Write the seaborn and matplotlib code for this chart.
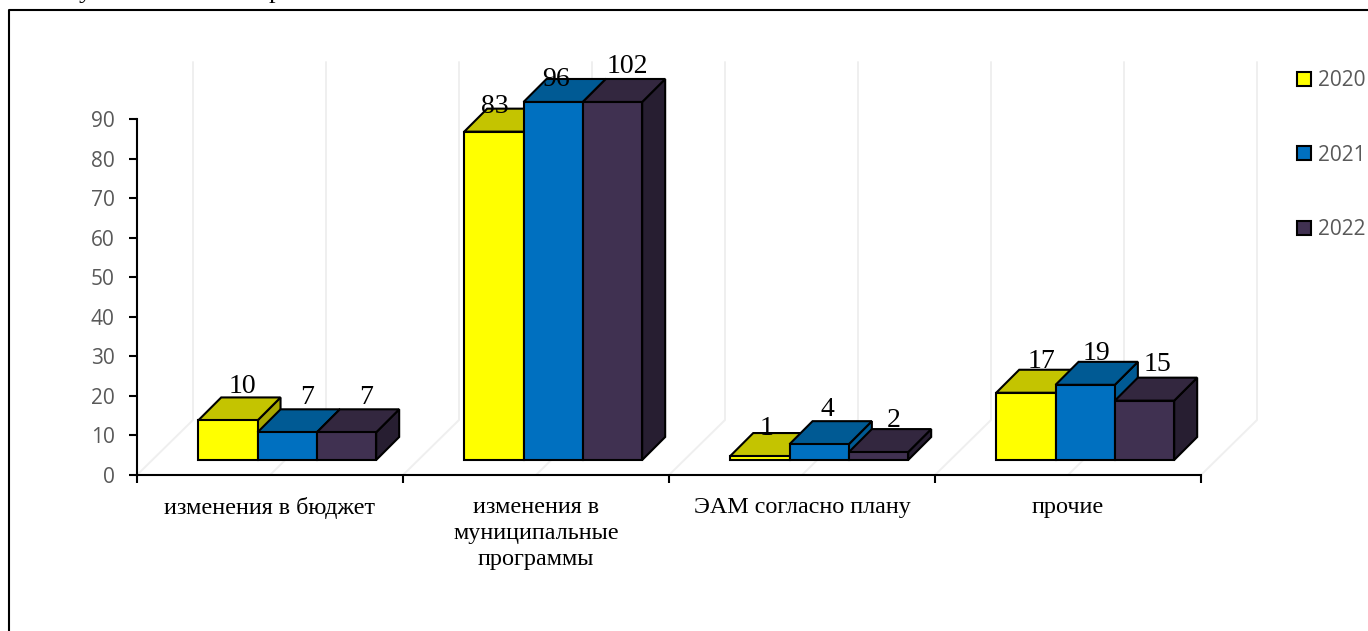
import matplotlib
matplotlib.use("Agg")
import matplotlib.pyplot as plt
import numpy as np
import pandas as pd
import seaborn as sns
from matplotlib.lines import Line2D
from matplotlib.patches import Polygon, Rectangle

categories = ["изменения в бюджет", "изменения в\nмуниципальные\nпрограммы", "ЭАМ согласно плану", "прочие"]
years = ["2020", "2021", "2022"]
values_2020 = [10, 83, 1, 17]
values_2021 = [7, 96, 4, 19]
values_2022 = [7, 102, 2, 15]
y_ticks = [0, 10, 20, 30, 40, 50, 60, 70, 80, 90]

front_colors = ["#FFFF00", "#0070C0", "#403151"]
top_colors = ["#C4C400", "#005A94", "#33273F"]
side_colors = ["#A8A800", "#005A94", "#271E31"]

# label nudges in pixels from the front top centre of each bar (year, category)
label_nudges = [
    [(15, 34), (1, 25), (7, 28), (16, 31)],
    [(20, 35), (3, 22), (8, 35), (11, 31)],
    [(20, 35), (15, 35), (15, 32), (13, 36)],
]

W, H = 1368, 631
PX_X = 266.0         # one category
PX_Y = 3.956         # one value unit
AX_LEFT, AX_RIGHT, AX_BOTTOM, AX_TOP = 137, 1201, 475, 60
BAR_SHIFT = 17.2 / PX_X
BASE = 15 / PX_Y     # bars stand on the floor, above the axis line
CLIP = 90.5          # the 3D chart cuts taller bars at the axis top
DX, DY = 23 / PX_X, 23 / PX_Y
WALL_DX, WALL_DY = 56 / PX_X, 55 / PX_Y

df = pd.DataFrame({
    "category": categories * 3,
    "year": np.repeat(years, 4),
    "value": values_2020 + values_2021 + values_2022,
})
df["drawn"] = df["value"].clip(upper=CLIP)

sns.set_theme(style="white")
plt.rcParams["font.family"] = ["Liberation Serif", "DejaVu Serif"]

fig = plt.figure(figsize=(W / 100, H / 100), dpi=100)
ax = fig.add_axes([AX_LEFT / W, 1 - AX_BOTTOM / H, (AX_RIGHT - AX_LEFT) / W, (AX_BOTTOM - AX_TOP) / H])
ax.patch.set_alpha(0)

sns.barplot(data=df, x="category", y="drawn", hue="year", palette=front_colors, saturation=1,
            order=categories, hue_order=years, width=0.669, gap=0, bottom=BASE,
            edgecolor="black", linewidth=1.5, legend=False, ax=ax)

x0 = -0.5 - BAR_SHIFT
ax.set_xlim(x0, x0 + 4)
ax.set_ylim(0, (AX_BOTTOM - AX_TOP) / PX_Y)

# wall and floor lines behind the bars
for i in range(9):
    x = x0 + i * 0.5
    ax.plot([x, x + WALL_DX, x + WALL_DX], [0, WALL_DY, 104.4], color="#EFEFEF", lw=1.4,
            zorder=1, clip_on=False, solid_joinstyle="miter")

# 3D faces for every bar, painted left to right
for h, container in enumerate(ax.containers):
    for c, bar in enumerate(container):
        order = c * 10 + h * 3 + 5
        x1, x2 = bar.get_x(), bar.get_x() + bar.get_width()
        y1, y2 = bar.get_y(), bar.get_y() + bar.get_height()
        side = [(x2, y1), (x2 + DX, y1 + DY), (x2 + DX, y2 + DY), (x2, y2)]
        top = [(x1, y2), (x1 + DX, y2 + DY), (x2 + DX, y2 + DY), (x2, y2)]
        ax.add_patch(Polygon(side, fc=side_colors[h], ec="black", lw=1.5, zorder=order, clip_on=False))
        ax.add_patch(Polygon(top, fc=top_colors[h], ec="black", lw=1.5, zorder=order + 1, clip_on=False))
        bar.set_zorder(order + 2)
        bar.set_clip_on(False)

# value labels
year_values = [values_2020, values_2021, values_2022]
for h, container in enumerate(ax.containers):
    for c, bar in enumerate(container):
        ax.annotate(str(year_values[h][c]),
                    (bar.get_x() + bar.get_width() / 2, bar.get_y() + bar.get_height()),
                    xytext=label_nudges[h][c], textcoords="offset pixels",
                    ha="center", va="center", fontsize=20, color="black", zorder=100)

for s in ["top", "right"]:
    ax.spines[s].set_visible(False)
for s in ["left", "bottom"]:
    ax.spines[s].set_linewidth(1.5)
    ax.spines[s].set_color("black")
    ax.spines[s].set_zorder(2)
ax.spines["left"].set_bounds(0, 90)

ax.set_xlabel("")
ax.set_ylabel("")
ax.set_yticks(y_ticks)
ax.tick_params(axis="y", length=6, width=1.5, color="black", left=True, pad=10,
               labelsize=15, labelcolor="#595959")
for t in ax.get_yticklabels():
    t.set_fontfamily("Open Sans")

ax.set_xticks([x0 + i for i in range(5)], labels=[""] * 5)
ax.tick_params(axis="x", which="major", length=6, width=1.5, color="black", bottom=True)
ax.set_xticks([x0 + 0.5 + i for i in range(4)], labels=categories, minor=True)
ax.tick_params(axis="x", which="minor", length=0, pad=15.5, labelsize=17.4, labelcolor="black")
for t in ax.get_xticklabels(minor=True):
    t.set_verticalalignment("top")
    t.set_linespacing(1.33)

# legend
handles = [Rectangle((0, 0), 1, 1, fc=col, ec="black", lw=1.5) for col in front_colors]
fig.legend(handles, years, loc="upper left", bbox_to_anchor=(1297 / W, 1 - 70 / H), frameon=False,
           borderpad=0, borderaxespad=0, handlelength=0.65, handleheight=0.65, handletextpad=0.36,
           labelspacing=2.57, prop={"family": "Open Sans", "size": 15}, labelcolor="#595959")

# outer frame of the embedded chart, and what is left of the line of text above it
fig.add_artist(Line2D([9 / W, 9 / W, 1], [0, 1 - 10 / H, 1 - 10 / H], color="black", lw=1.5))
fig.text(85 / W, 1 + 8 / H, "у", ha="center", va="center", fontsize=19, color="black")
fig.text(275 / W, 1 + 8 / H, "р", ha="center", va="center", fontsize=19, color="black")

fig.savefig("out.png", dpi=100)
